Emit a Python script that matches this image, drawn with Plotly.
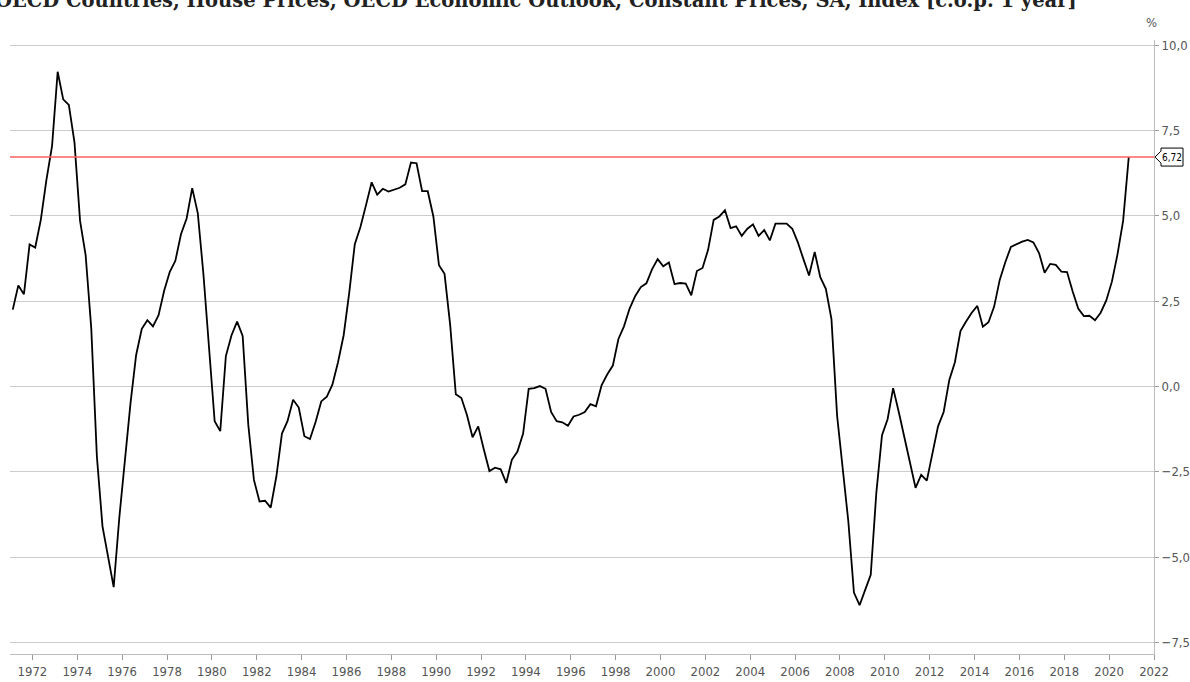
import plotly.graph_objects as go
import pandas as pd

# ---------------- data ----------------
title_text = "OECD Countries, House Prices, OECD Economic Outlook, Constant Prices, SA, Index [c.o.p. 1 year]"
start_quarter = "1971Q1"
end_quarter = "2020Q4"

# year-over-year change of real house prices, quarterly (%)
house_price_yoy = [
    2.25, 2.96, 2.70, 4.16,      # 1971
    4.07, 4.88, 6.05, 7.05,      # 1972
    9.22, 8.41, 8.25, 7.15,      # 1973
    4.85, 3.85, 1.71, -2.06,     # 1974
    -4.10, -4.94, -5.88, -3.84,  # 1975
    -2.06, -0.49, 0.92, 1.69,    # 1976
    1.94, 1.76, 2.09, 2.81,      # 1977
    3.36, 3.68, 4.46, 4.92,      # 1978
    5.81, 5.08, 3.30, 1.20,      # 1979
    -1.02, -1.31, 0.89, 1.50,    # 1980
    1.90, 1.48, -1.12, -2.74,    # 1981
    -3.37, -3.35, -3.55, -2.64,  # 1982
    -1.38, -1.02, -0.39, -0.62,  # 1983
    -1.46, -1.54, -1.04, -0.44,  # 1984
    -0.30, 0.05, 0.71, 1.50,     # 1985
    2.75, 4.17, 4.67, 5.32,      # 1986
    5.98, 5.62, 5.79, 5.71,      # 1987
    5.77, 5.82, 5.92, 6.56,      # 1988
    6.54, 5.72, 5.72, 4.98,      # 1989
    3.55, 3.30, 1.81, -0.23,     # 1990
    -0.34, -0.84, -1.49, -1.17,  # 1991
    -1.85, -2.48, -2.38, -2.43,  # 1992
    -2.83, -2.15, -1.91, -1.38,  # 1993
    -0.07, -0.05, 0.01, -0.07,   # 1994
    -0.75, -1.02, -1.05, -1.15,  # 1995
    -0.88, -0.83, -0.75, -0.52,  # 1996
    -0.58, 0.03, 0.35, 0.61,     # 1997
    1.39, 1.76, 2.28, 2.65,      # 1998
    2.91, 3.02, 3.43, 3.73,      # 1999
    3.52, 3.63, 3.00, 3.03,      # 2000
    3.01, 2.67, 3.38, 3.47,      # 2001
    4.01, 4.88, 4.98, 5.16,      # 2002
    4.64, 4.69, 4.41, 4.62,      # 2003
    4.75, 4.41, 4.58, 4.28,      # 2004
    4.77, 4.77, 4.77, 4.62,      # 2005
    4.22, 3.73, 3.25, 3.94,      # 2006
    3.20, 2.86, 1.97, -0.86,     # 2007
    -2.38, -3.95, -6.04, -6.41,  # 2008
    -5.96, -5.52, -3.11, -1.43,  # 2009
    -0.96, -0.05, -0.75, -1.49,  # 2010
    -2.32, -2.97, -2.59, -2.76,  # 2011
    -1.96, -1.17, -0.75, 0.19,   # 2012
    0.71, 1.62, 1.90, 2.16,      # 2013
    2.36, 1.75, 1.88, 2.34,      # 2014
    3.12, 3.64, 4.09, 4.17,      # 2015
    4.24, 4.29, 4.22, 3.91,      # 2016
    3.33, 3.59, 3.56, 3.36,      # 2017
    3.35, 2.79, 2.28, 2.06,      # 2018
    2.07, 1.94, 2.16, 2.52,      # 2019
    3.07, 3.87, 4.85, 6.72,      # 2020
]
latest_value = 6.72
latest_label = "6,72"
y_tick_values = [-7.5, -5.0, -2.5, 0.0, 2.5, 5.0, 7.5, 10.0]
x_tick_years = list(range(1972, 2023, 2))
x_range_years = (1971, 2022)
y_range = (-7.84, 10.15)

# ---------------- figure ----------------
quarters = pd.period_range(start_quarter, end_quarter, freq="Q")
dates = [p.start_time + (p.end_time - p.start_time) / 2 for p in quarters]

narrow = "DejaVu Sans Condensed, Liberation Sans Narrow, Arial Narrow, Liberation Sans, sans-serif"
tick_font = dict(family=narrow, size=13, color="#555555")

fig = go.Figure()
fig.add_trace(go.Scatter(
    x=dates, y=house_price_yoy, mode="lines",
    line=dict(color="#000000", width=1.8),
    showlegend=False, hoverinfo="skip",
))

fig.add_shape(type="line", xref="paper", yref="y", x0=0, x1=1,
              y0=latest_value, y1=latest_value,
              line=dict(color="#ff5f5f", width=1.5), layer="above")

# value callout on the right axis
fig.add_shape(type="path", xref="paper", yref="y",
              xsizemode="pixel", ysizemode="pixel",
              xanchor=1, yanchor=latest_value,
              path="M 1 0 L 7 6 L 7 9 L 29 9 L 29 -9 L 7 -9 L 7 -6 Z",
              line=dict(color="#000000", width=1), fillcolor="#ffffff", layer="above")
fig.add_annotation(xref="paper", yref="y", x=1, y=latest_value, xshift=18,
                   xanchor="center", yanchor="middle",
                   text=latest_label, showarrow=False,
                   font=dict(family=narrow, size=10, color="#000000"))

fig.add_annotation(xref="paper", yref="paper", x=1, y=1.028, xshift=-3,
                   text="%", showarrow=False, yanchor="middle", xanchor="center",
                   font=tick_font)

fig.add_annotation(xref="paper", yref="paper", x=0.46, y=1.042, yanchor="bottom",
                   xanchor="center",
                   text="<b>" + title_text + "</b>", showarrow=False,
                   font=dict(family="DejaVu Serif, serif", size=19.5, color="#222222"))

fig.update_layout(
    width=1190, height=682,
    margin=dict(l=10, r=36, t=40, b=28, autoexpand=False),
    paper_bgcolor="#ffffff", plot_bgcolor="#ffffff",
    separators=", ",
    xaxis=dict(
        type="date", automargin=False,
        range=[f"{x_range_years[0]}-01-01", f"{x_range_years[1]}-01-01"],
        tickvals=[f"{y}-01-01" for y in x_tick_years],
        ticktext=[str(y) for y in x_tick_years],
        ticks="outside", ticklen=5, tickcolor="#9a9a9a",
        showline=True, linecolor="#bdbdbd", linewidth=1,
        showgrid=False, zeroline=False,
        tickfont=tick_font,
    ),
    yaxis=dict(
        side="right", range=list(y_range), automargin=False,
        tickvals=y_tick_values, tickformat=".1f",
        ticks="outside", ticklen=4, tickcolor="#9a9a9a",
        showline=True, linecolor="#bdbdbd", linewidth=1,
        showgrid=True, gridcolor="#cccccc", gridwidth=1,
        zeroline=False,
        tickfont=tick_font,
    ),
)

fig.write_html("out.html", config={"displayModeBar": False},
               post_script="document.body.style.margin='0';")
